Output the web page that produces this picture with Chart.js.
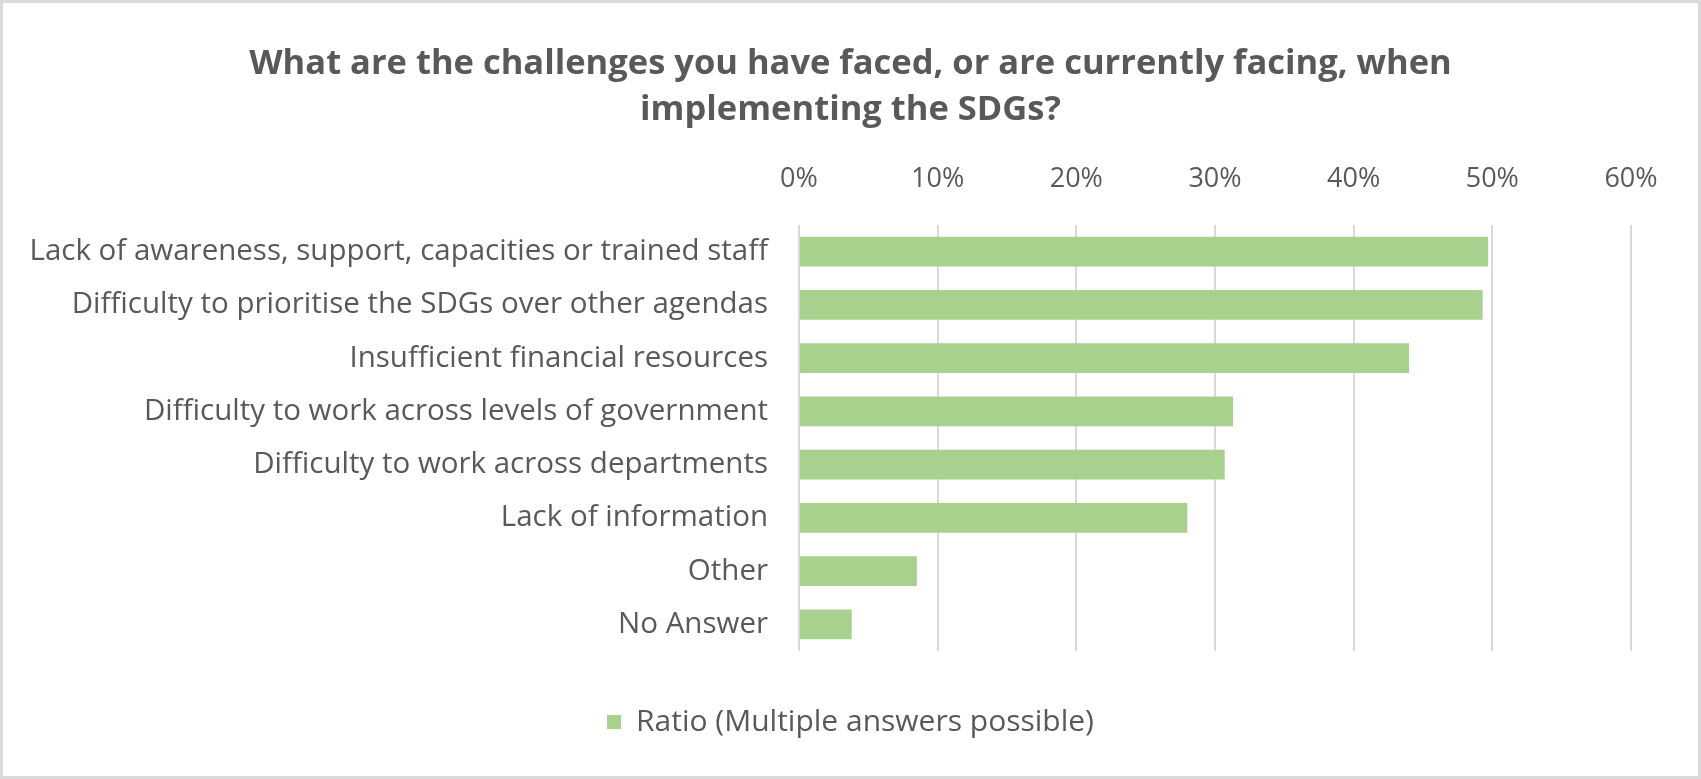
<!DOCTYPE html>
<html>
<head>
<meta charset="utf-8">
<script src="https://cdn.jsdelivr.net/npm/chart.js@4/dist/chart.umd.min.js"></script>
<style>
  body { margin: 0; background: #fff; }
  #caja { position: relative; width: 1701px; height: 779px; }
  #marco { position: absolute; left: 0; top: 0; width: 1701px; height: 779px;
           box-sizing: border-box; border: 3px solid #d9d9d9; pointer-events: none; }
</style>
</head>
<body>
<div id="caja">
  <canvas id="barras" width="1701" height="779"></canvas>
  <div id="marco"></div>
</div>
<script>
// Datos del gráfico
var categorias = [
    "Lack of awareness, support, capacities or trained staff",
    "Difficulty to prioritise the SDGs over other agendas",
    "Insufficient financial resources",
    "Difficulty to work across levels of government",
    "Difficulty to work across departments",
    "Lack of information",
    "Other",
    "No Answer"
];
var ratios = [0.497, 0.493, 0.440, 0.313, 0.307, 0.280, 0.085, 0.038];
var serie = "Ratio (Multiple answers possible)";
var titulo = ["What are the challenges you have faced, or are currently facing, when",
              "implementing the SDGs?"];

var gris = "#595959";
var fuente = "'Open Sans', sans-serif";

function cargaGraficoBarras() {
    var config = {
        type: "bar",
        data: {
            labels: categorias,
            datasets: [{
                label: serie,
                data: ratios,
                backgroundColor: "#A9D18E",
                borderWidth: 0,
                barPercentage: 0.56,
                categoryPercentage: 1
            }]
        },
        options: {
            indexAxis: "y",
            responsive: false,
            animation: false,
            layout: { padding: { left: 70, right: 70, top: 0, bottom: 32 } },
            scales: {
                x: {
                    position: "top",
                    min: 0,
                    max: 0.6,
                    ticks: {
                        stepSize: 0.1,
                        color: gris,
                        padding: 29,
                        font: { family: fuente, size: 27 },
                        callback: function (v) { return Math.round(v * 100) + "%"; }
                    },
                    grid: { color: "#d9d9d9", lineWidth: 2, drawTicks: false },
                    border: { display: false },
                    afterFit: function (s) { s.height = 82; }
                },
                y: {
                    ticks: {
                        color: gris,
                        padding: 31,
                        font: { family: fuente, size: 29.5 }
                    },
                    grid: { display: false, drawTicks: false },
                    border: { display: false },
                    afterFit: function (s) {
                        s.width = 729;
                        // las etiquetas largas sobresalen a la izquierda: sin recorte
                        s._computeLabelArea = function () { return undefined; };
                    }
                }
            },
            plugins: {
                title: {
                    display: true,
                    text: titulo,
                    color: gris,
                    font: { family: fuente, size: 34.5, weight: "bold", lineHeight: 1.333 },
                    padding: { top: 41, bottom: 10 }
                },
                legend: {
                    position: "bottom",
                    labels: {
                        color: gris,
                        boxWidth: 14,
                        boxHeight: 14,
                        padding: 56,
                        font: { family: fuente, size: 30 }
                    }
                },
                tooltip: { enabled: false }
            }
        }
    };
    var grafico = document.getElementById("barras").getContext("2d");
    new Chart(grafico, config);
}

cargaGraficoBarras();
</script>
</body>
</html>
